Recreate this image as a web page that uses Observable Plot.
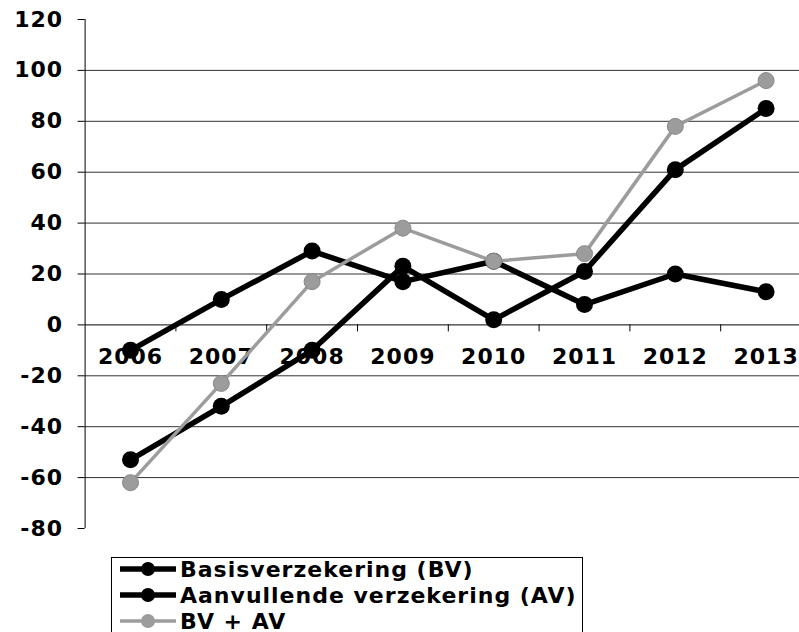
<!DOCTYPE html>
<html><head><meta charset="utf-8">
<script src="https://cdn.jsdelivr.net/npm/d3@7"></script>
<script src="https://cdn.jsdelivr.net/npm/@observablehq/plot@0.6"></script>
<style>
html,body{margin:0;padding:0;background:#fff;overflow:hidden;}
body{font-family:"DejaVu Sans",Verdana,sans-serif;width:799px;height:632px;position:relative;}
#legend{position:absolute;left:111px;top:557px;width:472px;border:1px solid #000;padding:0 0 20px 8px;box-sizing:border-box;background:#fff;}
#legend .rows{margin-top:-2px;}
.row{display:flex;align-items:center;height:26px;font-weight:bold;font-size:22px;letter-spacing:1px;color:#000;white-space:nowrap;}
.row svg{margin-right:4px;flex:none;}
</style></head><body>
<div id="chart"></div>
<div id="legend"><div class="rows"></div></div>
<script>
const years = [2006, 2007, 2008, 2009, 2010, 2011, 2012, 2013];
const bv = [-53, -32, -10, 23, 2, 21, 61, 85];
const av = [-10, 10, 29, 17, 25, 8, 20, 13];
const total = [-62, -23, 17, 38, 25, 28, 78, 96];
const seriesNames = ["Basisverzekering (BV)", "Aanvullende verzekering (AV)", "BV + AV"];
const yTicks = [-80, -60, -40, -20, 0, 20, 40, 60, 80, 100, 120];
const gridValues = [-60, -40, -20, 20, 40, 60, 80, 100];

const colors = ["#000000", "#000000", "#9c9c9c"];
const series = [bv, av, total];
const rows = series.map((vals, s) => years.map((yr, i) => ({year: yr, value: vals[i], name: seriesNames[s]})));
const boundaries = years.slice(1).map(y => y - 0.5);

const chart = Plot.plot({
  width: 799,
  height: 548,
  marginLeft: 84.6,
  marginRight: 0,
  marginTop: 19,
  marginBottom: 20,
  style: {fontFamily: "DejaVu Sans", fontSize: "22px", fontWeight: "bold", letterSpacing: "1px", color: "#000", background: "#fff", overflow: "visible"},
  x: {type: "linear", domain: [years[0] - 0.5, years[years.length - 1] + 0.5], range: [84.6, 811], axis: null},
  y: {domain: [yTicks[0], yTicks[yTicks.length - 1]], axis: null},
  marks: [
    Plot.ruleY(gridValues, {stroke: "#333", strokeWidth: 1}),
    Plot.ruleY([0], {stroke: "#000", strokeWidth: 1}),
    Plot.ruleX(boundaries, {y1: 0, y2: 0, insetBottom: -7, stroke: "#000", strokeWidth: 1}),
    Plot.ruleX([years[0] - 0.5], {y1: yTicks[0], y2: yTicks[yTicks.length - 1], stroke: "#000", strokeWidth: 1}),
    Plot.axisY({ticks: yTicks, tickSize: 7, tickPadding: 15, tickFormat: d => String(d), label: null, fontWeight: "bold", fontSize: 22, stroke: "#000"}),
    Plot.text(years, {x: d => d, y: () => 0, text: d => String(d), lineAnchor: "bottom", dy: 39, fontWeight: "bold", fontSize: 22, fill: "#000"}),
    ...rows.map((data, s) => [
      Plot.line(data, {x: "year", y: "value", stroke: colors[s], strokeWidth: s === 2 ? 3.5 : 5.5, strokeLinejoin: "round"}),
      Plot.dot(data, {x: "year", y: "value", r: s === 2 ? 8 : 8.5, fill: colors[s], stroke: s === 2 ? "#888" : "none", strokeWidth: 1})
    ]).flat()
  ]
});
document.getElementById("chart").appendChild(chart);

const legendRows = document.querySelector("#legend .rows");
seriesNames.forEach((name, s) => {
  const row = document.createElement("div");
  row.className = "row";
  const sw = s === 2 ? 3.5 : 5.5;
  row.innerHTML = `<svg width="56" height="26"><line x1="0" x2="56" y1="13" y2="13" stroke="${colors[s]}" stroke-width="${sw}"/><circle cx="28" cy="13" r="7" fill="${colors[s]}"/></svg><span>${name}</span>`;
  legendRows.appendChild(row);
});
</script>
</body></html>
